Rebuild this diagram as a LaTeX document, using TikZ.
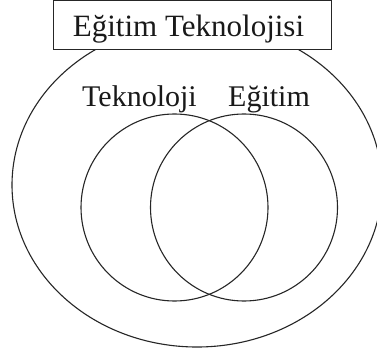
\documentclass[tikz,border=0pt]{standalone}
\usepackage{fontspec}
\setmainfont{Liberation Serif}
\usetikzlibrary{shapes.geometric}
\begin{document}
\begin{tikzpicture}[x=1pt,y=-1pt,
  shapeline/.style={draw=black!85,line width=1.1pt},
  lbl/.style={font=\fontsize{30}{30}\selectfont,inner sep=0pt,anchor=base,text=black!90}]
\useasboundingbox (0,0) rectangle (377,358);
\fill[white] (0,0) rectangle (377,358);
% outer ellipse
\node[ellipse,shapeline,minimum width=370pt,minimum height=324pt,inner sep=0pt] (outer) at (197,185) {};
% inner circles
\node[circle,shapeline,minimum size=187pt,inner sep=0pt] (tek) at (174.5,207.5) {};
\node[circle,shapeline,minimum size=187pt,inner sep=0pt] (egi) at (244,207.5) {};
% title box
\node[draw=black!85,line width=1pt,fill=white,minimum width=278pt,minimum height=49pt,inner sep=0pt] (box) at (192,25.5) {};
\node[lbl,font=\fontsize{31}{31}\selectfont] (title) at (188.5,37) {Eğitim Teknolojisi};
\node[lbl] (ltek) at (139.5,107) {Teknoloji};
\node[lbl] (legi) at (269,107) {Eğitim};
\end{tikzpicture}
\end{document}
